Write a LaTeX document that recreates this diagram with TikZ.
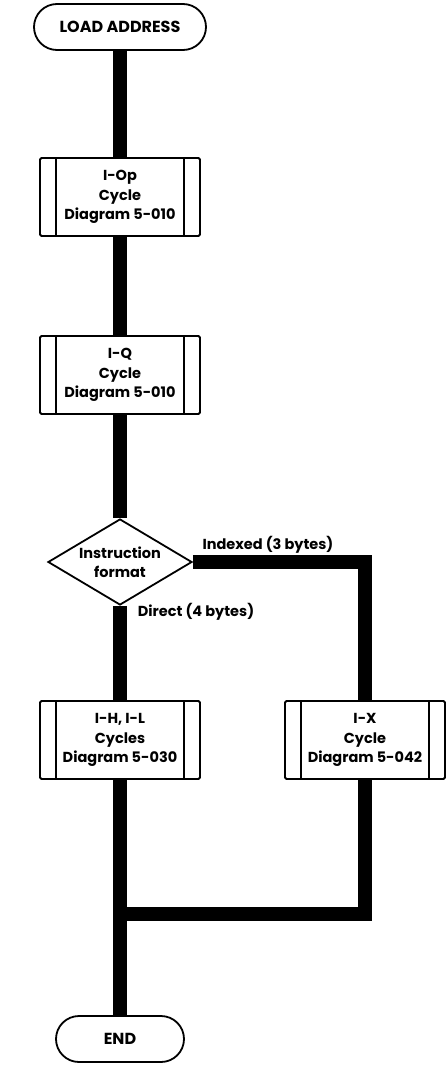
\documentclass[tikz,border=0pt]{standalone}
\usepackage{fontspec}
\setmainfont{Poppins}
\usetikzlibrary{shapes.geometric,backgrounds}
\begin{document}
\begin{tikzpicture}[x=1pt,y=1pt,
  font=\fontsize{14.5}{19.5}\selectfont\bfseries,
  outline/.style={draw=black,line width=1.8pt,fill=white,align=center},
  terminal/.style={outline,rectangle,rounded corners=23pt,minimum height=46pt,inner sep=0pt,
    font=\fontsize{16}{20}\selectfont\bfseries},
  proc/.style={outline,rectangle,rounded corners=1.5pt,minimum width=160pt,minimum height=78pt,inner sep=0pt,
    path picture={\draw[line width=1.8pt]
      ([xshift=16pt]path picture bounding box.north west) -- ([xshift=16pt]path picture bounding box.south west)
      ([xshift=-16pt]path picture bounding box.north east) -- ([xshift=-16pt]path picture bounding box.south east);}},
  decision/.style={outline,diamond,aspect=1.67,minimum width=144pt,minimum height=86pt,inner sep=0pt},
  flow/.style={line width=14pt,line join=miter},
  lbl/.style={inner sep=0pt}]
\useasboundingbox (0,0) rectangle (446,-1065);

% process chain
\node[terminal,minimum width=172pt] (load) at (120,-27) {LOAD ADDRESS};
\node[proc] (iop) at (120,-197) {I-Op\\Cycle\\Diagram 5-010};
\node[proc] (iq) at (120,-375) {I-Q\\Cycle\\Diagram 5-010};
\node[decision] (fmt) at (120,-562) {Instruction\\format};
\node[proc] (ihl) at (120,-740) {I-H, I-L\\Cycles\\Diagram 5-030};
\node[proc] (ix) at (365,-740) {I-X\\Cycle\\Diagram 5-042};
\node[terminal,minimum width=128pt] (end) at (120,-1039) {END};

% bends of the thick flow lines
\coordinate (turn) at (365,-562);
\coordinate (rjoin) at (365,-914);
\coordinate (join) at (120,-914);

% branch labels
\node[lbl] (idx) at (268,-545) {Indexed (3 bytes)};
\node[lbl] (dir) at (196,-612) {Direct (4 bytes)};

\begin{scope}[on background layer]
  \draw[flow] (load.south) -- (iop.north);
  \draw[flow] (iop.south) -- (iq.north);
  \draw[flow] (iq.south) -- (fmt.north);
  \draw[flow] (fmt.south) -- (ihl.north);
  \draw[flow] (fmt.east) -- (turn) -- (ix.north);
  \draw[flow] (ihl.south) -- (end.north);
  \draw[flow] (ix.south) -- (rjoin) -- (join);
\end{scope}
\end{tikzpicture}
\end{document}
